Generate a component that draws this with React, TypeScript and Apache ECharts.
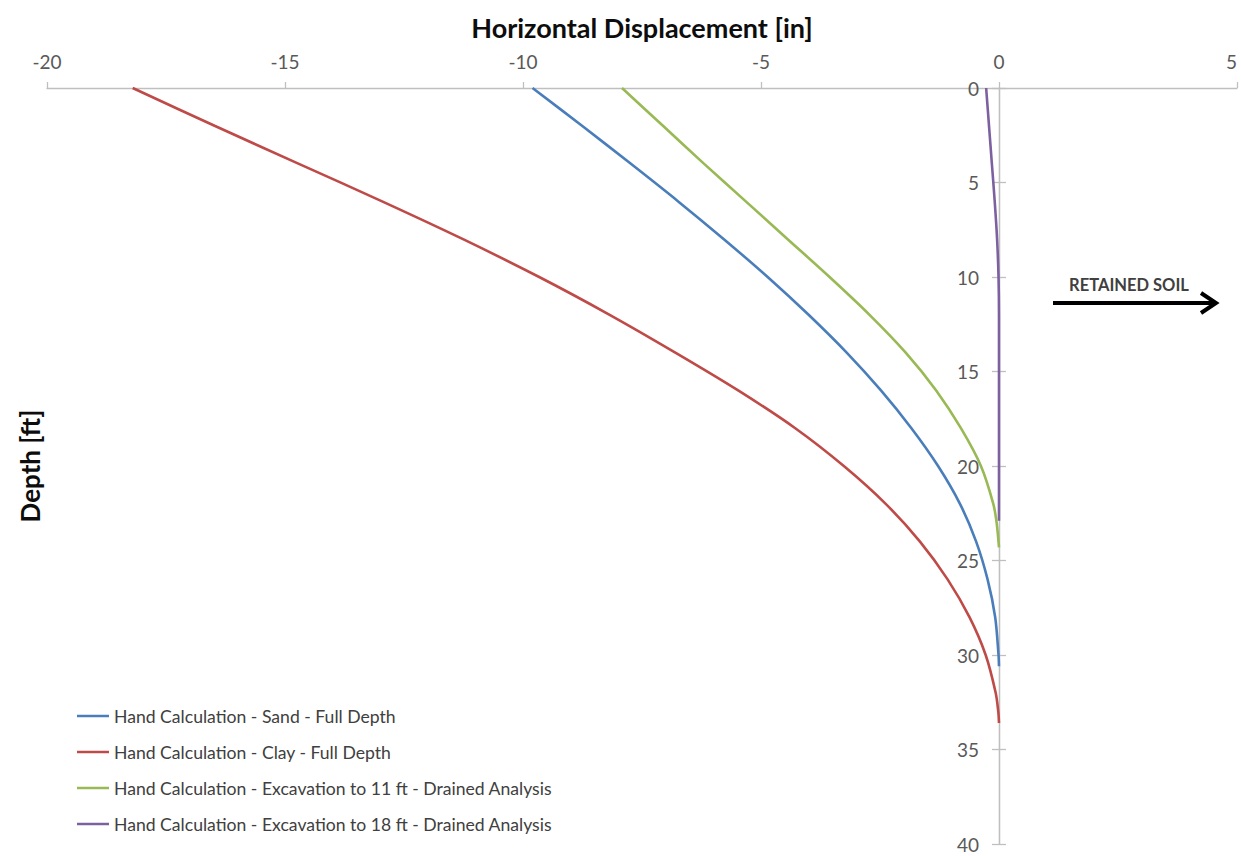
import React, { useEffect, useRef } from "react";
import * as echarts from "echarts";

// Depth [ft] and horizontal displacement [in] for each calculation case
const sandDepth = [0, 2, 4, 6, 8, 10, 12, 14, 16, 18, 20, 22, 24, 26, 28, 30, 30.6];
const sandDisp = [-9.8, -8.76, -7.74, -6.74, -5.78, -4.86, -4.0, -3.2, -2.48, -1.84, -1.28, -0.82, -0.48, -0.24, -0.08, -0.01, 0];

const clayDepth = [0, 2, 4, 6, 8, 10, 12, 14, 16, 18, 20, 22, 24, 26, 28, 30, 32, 33, 33.6];
const clayDisp = [-18.2, -16.48, -14.72, -12.96, -11.26, -9.66, -8.18, -6.8, -5.48, -4.28, -3.26, -2.38, -1.66, -1.08, -0.62, -0.28, -0.07, -0.015, 0];

const exc11Depth = [0, 2, 4, 6, 8, 10, 12, 14, 16, 18, 20, 22, 23, 24.3];
const exc11Disp = [-7.92, -7.06, -6.2, -5.32, -4.44, -3.56, -2.72, -1.96, -1.32, -0.8, -0.38, -0.12, -0.05, 0];

const exc18Depth = [0, 2, 4, 6, 8, 10, 12, 15, 18, 21, 22.9];
const exc18Disp = [-0.27, -0.21, -0.15, -0.09, -0.04, -0.01, 0, 0, 0, 0, 0];

const seriesNames = [
  "Hand Calculation - Sand - Full Depth",
  "Hand Calculation - Clay - Full Depth",
  "Hand Calculation - Excavation to 11 ft - Drained Analysis",
  "Hand Calculation - Excavation to 18 ft - Drained Analysis",
];
const seriesColors = ["#4a7ebb", "#be4b48", "#98b954", "#7d60a0"];

const xTitle = "Horizontal Displacement [in]";
const yTitle = "Depth [ft]";
const arrowLabel = "RETAINED SOIL";

const FONT = "Lato, 'Noto Sans', sans-serif";

// plot area geometry
const GRID_LEFT = 47;
const GRID_WIDTH = 1190;
const X_MIN = -20;
const X_MAX = 5;
// distance from the plot's left edge to the x = 0 line
const ZERO_SHIFT = (GRID_WIDTH * (0 - X_MIN)) / (X_MAX - X_MIN);

function pairs(disp: number[], depth: number[]) {
  return disp.map((v, i) => [v, depth[i]]);
}

export default function App() {
  const ref = useRef<HTMLDivElement>(null);

  useEffect(() => {
    if (!ref.current) return;
    const chart = echarts.init(ref.current, undefined, { renderer: "svg" });
    const data = [
      pairs(sandDisp, sandDepth),
      pairs(clayDisp, clayDepth),
      pairs(exc11Disp, exc11Depth),
      pairs(exc18Disp, exc18Depth),
    ];
    const axisGrey = "#bfbfbf";
    const labelGrey = "#595959";

    const depthAxis = (position: "left" | "right", offset: number, labels: boolean) => ({
      type: "value",
      inverse: true,
      min: 0,
      max: 40,
      interval: 5,
      position,
      offset,
      axisLine: { show: true, onZero: false, lineStyle: { color: axisGrey, width: 1.3 } },
      axisTick: { show: true, length: 7, lineStyle: { color: axisGrey, width: 1.3 } },
      axisLabel: { show: labels, fontFamily: FONT, fontSize: 19, color: labelGrey, margin: 20 },
      splitLine: { show: false },
    });

    chart.setOption({
      animation: false,
      textStyle: { fontFamily: FONT },
      grid: {
        left: GRID_LEFT,
        width: GRID_WIDTH,
        top: 88,
        height: 756,
        containLabel: false,
        outerBoundsMode: "none",
      },
      xAxis: {
        type: "value",
        position: "top",
        min: X_MIN,
        max: X_MAX,
        interval: 5,
        name: xTitle,
        nameLocation: "middle",
        nameGap: 47,
        nameTextStyle: { fontFamily: FONT, fontSize: 27, fontWeight: "bold", color: "#0d0d0d" },
        axisLine: { onZero: false, lineStyle: { color: axisGrey, width: 1.3 } },
        axisTick: { show: true, length: 6, lineStyle: { color: axisGrey, width: 1.3 } },
        axisLabel: {
          fontFamily: FONT,
          fontSize: 19,
          color: labelGrey,
          margin: 17,
          alignMaxLabel: "right",
        },
        splitLine: { show: false },
      },
      yAxis: [
        // labelled axis drawn on the x = 0 line, ticks to the left
        depthAxis("left", -ZERO_SHIFT, true),
        // companion axis so the ticks cross the line
        depthAxis("right", -(GRID_WIDTH - ZERO_SHIFT), false),
      ],
      legend: {
        orient: "vertical",
        left: 72,
        top: 702,
        height: 150,
        itemWidth: 32,
        itemHeight: 14,
        itemGap: 18,
        icon: "path://M0,6 L32,6 L32,8.5 L0,8.5 Z",
        textStyle: { fontFamily: FONT, fontSize: 17.6, color: "#404040" },
        data: seriesNames,
      },
      series: data.map((d, i) => ({
        name: seriesNames[i],
        type: "line",
        data: d,
        showSymbol: false,
        symbol: "none",
        smooth: 0.3,
        color: seriesColors[i],
        lineStyle: { color: seriesColors[i], width: 2.6 },
        itemStyle: { color: seriesColors[i] },
      })),
      graphic: [
        {
          type: "text",
          x: 30,
          y: 466,
          rotation: Math.PI / 2,
          style: {
            text: yTitle,
            fontFamily: FONT,
            fontSize: 26,
            fontWeight: "bold",
            fill: "#0d0d0d",
            align: "center",
            verticalAlign: "middle",
          },
        },
        {
          type: "text",
          x: 1129,
          y: 285,
          style: {
            text: arrowLabel,
            fontFamily: FONT,
            fontSize: 16.5,
            fontWeight: "bold",
            fill: "#404040",
            align: "center",
            verticalAlign: "middle",
          },
        },
        {
          type: "line",
          shape: { x1: 1053, y1: 303, x2: 1214, y2: 303 },
          style: { stroke: "#000", lineWidth: 4 },
        },
        {
          type: "polyline",
          shape: { points: [[1201, 293], [1216, 303], [1201, 313]] },
          style: { stroke: "#000", lineWidth: 4, fill: null, lineJoin: "miter" },
        },
      ],
    });
    return () => chart.dispose();
  }, []);

  return (
    <div
      ref={ref}
      style={{ position: "fixed", left: 0, top: 0, width: 1241, height: 856, background: "#fff" }}
    />
  );
}
